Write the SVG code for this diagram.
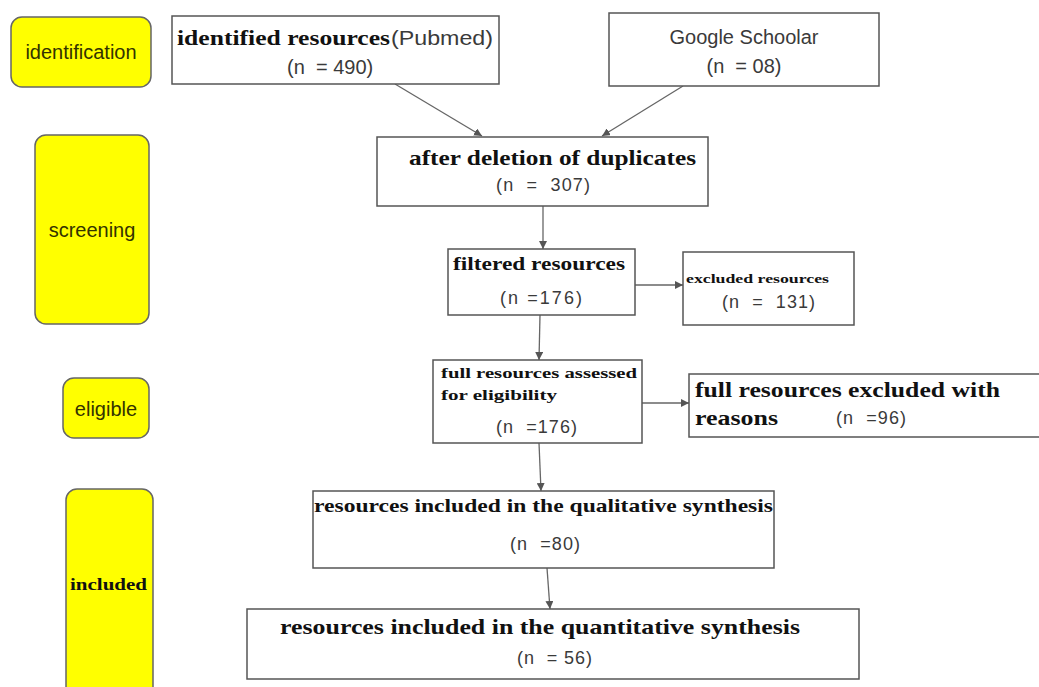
<svg xmlns="http://www.w3.org/2000/svg" width="1039" height="687" viewBox="0 0 1039 687">
<style>
.stage{fill:#ffff00;stroke:#666;stroke-width:1.5}
.box{fill:#fff;stroke:#555;stroke-width:1.5}
.ser{font-family:"Liberation Serif","Times New Roman",serif;font-weight:bold;fill:#111}
.san{font-family:"Liberation Sans",Arial,sans-serif;fill:#3a3a3a}
.lab{font-family:"Liberation Sans",Arial,sans-serif;fill:#333300;font-size:20px;text-anchor:middle}
.con{stroke:#666;stroke-width:1.3;fill:none;marker-end:url(#ah)}
</style>
<defs>
<marker id="ah" viewBox="0 0 10 10" refX="10" refY="5" markerWidth="8" markerHeight="8" markerUnits="userSpaceOnUse" orient="auto">
<path d="M0,0 L10,5 L0,10 z" fill="#555"/>
</marker>
</defs>
<rect width="1039" height="687" fill="#fff"/>
<g id="stage-identification"><rect class="stage" x="11" y="17" width="140" height="70" rx="11"/><text class="lab" x="81" y="59">identification</text></g>
<g id="stage-screening"><rect class="stage" x="35" y="135" width="114" height="189" rx="11"/><text class="lab" x="92" y="237">screening</text></g>
<g id="stage-eligible"><rect class="stage" x="63" y="378" width="86" height="60" rx="11"/><text class="lab" x="106" y="416">eligible</text></g>
<g id="stage-included"><rect class="stage" x="66" y="489" width="87" height="215" rx="11"/><text class="ser" x="70" y="590" font-size="17" textLength="77" lengthAdjust="spacingAndGlyphs">included</text></g>

<g id="connectors">
<line class="con" x1="395" y1="84" x2="482" y2="136"/>
<line class="con" x1="683" y1="86" x2="602" y2="136"/>
<line class="con" x1="543" y1="206" x2="543" y2="249"/>
<line class="con" x1="635" y1="285" x2="683" y2="285"/>
<line class="con" x1="540" y1="315" x2="539" y2="360"/>
<line class="con" x1="642" y1="403" x2="689" y2="403"/>
<line class="con" x1="539" y1="443" x2="541" y2="491"/>
<line class="con" x1="547" y1="568" x2="550" y2="609"/>
</g>

<g id="n-pubmed"><rect class="box" x="172" y="16" width="327" height="68"/>
<text class="ser" x="177" y="45" font-size="21" textLength="213" lengthAdjust="spacingAndGlyphs">identified resources</text>
<text class="san" x="391" y="45" font-size="20" textLength="102" lengthAdjust="spacingAndGlyphs">(Pubmed)</text>
<text class="san" x="287" y="74" font-size="20" xml:space="preserve">(n  = 490)</text></g>

<g id="n-google"><rect class="box" x="609" y="13" width="270" height="73"/>
<text class="san" x="744" y="44" font-size="20" text-anchor="middle">Google Schoolar</text>
<text class="san" x="744" y="73" font-size="20" text-anchor="middle" xml:space="preserve">(n  = 08)</text></g>

<g id="n-duplicates"><rect class="box" x="377" y="137" width="331" height="69"/>
<text class="ser" x="409" y="165" font-size="21" textLength="287" lengthAdjust="spacingAndGlyphs">after deletion of duplicates</text>
<text class="san" x="496" y="191" font-size="18" textLength="94" lengthAdjust="spacing" xml:space="preserve">(n  =  307)</text></g>

<g id="n-filtered"><rect class="box" x="448" y="249" width="187" height="66"/>
<text class="ser" x="453" y="270" font-size="19" textLength="172" lengthAdjust="spacingAndGlyphs">filtered resources</text>
<text class="san" x="500" y="304" font-size="18" textLength="82" lengthAdjust="spacing">(n =176)</text></g>

<g id="n-excluded"><rect class="box" x="683" y="252" width="171" height="73"/>
<text class="ser" x="686" y="283" font-size="13" textLength="143" lengthAdjust="spacingAndGlyphs">excluded resources</text>
<text class="san" x="722" y="308" font-size="18" textLength="93" lengthAdjust="spacing" xml:space="preserve">(n  =  131)</text></g>

<g id="n-assessed"><rect class="box" x="433" y="360" width="209" height="83"/>
<text class="ser" x="441" y="378" font-size="14" textLength="196" lengthAdjust="spacingAndGlyphs">full resources assessed</text>
<text class="ser" x="441" y="400" font-size="14" textLength="116" lengthAdjust="spacingAndGlyphs">for eligibility</text>
<text class="san" x="496" y="433" font-size="18" textLength="81" lengthAdjust="spacing" xml:space="preserve">(n  =176)</text></g>

<g id="n-fullexcluded"><rect class="box" x="689" y="374" width="352" height="63"/>
<text class="ser" x="695" y="397" font-size="22" textLength="305" lengthAdjust="spacingAndGlyphs">full resources excluded with</text>
<text class="ser" x="695" y="425" font-size="22" textLength="83" lengthAdjust="spacingAndGlyphs">reasons</text>
<text class="san" x="836" y="424" font-size="18" textLength="70" lengthAdjust="spacing" xml:space="preserve">(n  =96)</text></g>

<g id="n-qualitative"><rect class="box" x="313" y="491" width="461" height="77"/>
<text class="ser" x="314" y="512" font-size="19" textLength="459" lengthAdjust="spacingAndGlyphs">resources included in the qualitative synthesis</text>
<text class="san" x="510" y="550" font-size="18" textLength="70" lengthAdjust="spacing" xml:space="preserve">(n  =80)</text></g>

<g id="n-quantitative"><rect class="box" x="247" y="609" width="612" height="70"/>
<text class="ser" x="280" y="634" font-size="21" textLength="520" lengthAdjust="spacingAndGlyphs">resources included in the quantitative synthesis</text>
<text class="san" x="517" y="664" font-size="18" textLength="75" lengthAdjust="spacing" xml:space="preserve">(n  = 56)</text></g>
</svg>
